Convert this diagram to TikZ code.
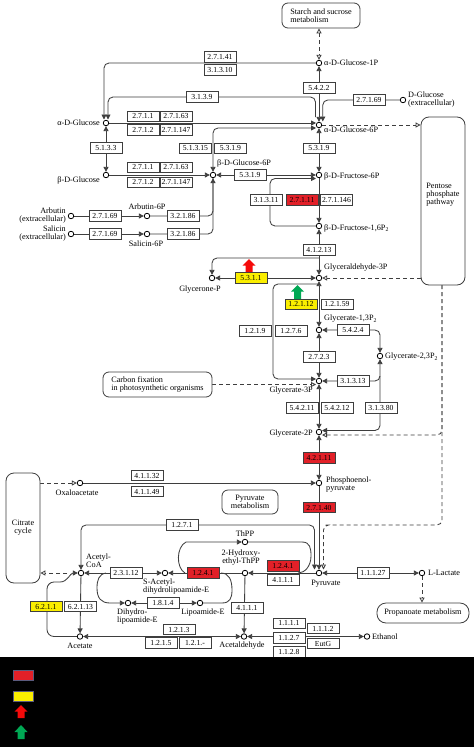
\documentclass[tikz,border=0pt]{standalone}
\usepackage{tikz}
\usepackage{fontspec}
\setmainfont{Liberation Serif}
\usetikzlibrary{arrows.meta,calc}
\pgfdeclarelayer{bgl}
\pgfdeclarelayer{lnl}
\pgfsetlayers{bgl,lnl,main}
\definecolor{kred}{RGB}{226,32,40}
\definecolor{kyel}{RGB}{250,238,0}
\definecolor{kgrn}{RGB}{0,168,84}
\definecolor{karr}{RGB}{245,10,10}
\definecolor{kln}{RGB}{62,62,62}
\definecolor{kbd}{RGB}{90,90,125}
\tikzset{
 enz/.style={draw=kln, fill=white, line width=0.75pt, minimum width=32pt, minimum height=10.5pt, inner sep=0pt, font=\fontsize{7.7}{8}\selectfont},
 enzr/.style={enz, fill=kred},
 enzy/.style={enz, fill=kyel},
 cpd/.style={circle, draw=black, fill=white, line width=0.8pt, minimum size=5.5pt, inner sep=0pt},
 lbl/.style={font=\fontsize{8.2}{8}\selectfont, inner sep=0pt, align=left},
 mapbox/.style={draw=kln, fill=white, rounded corners=6pt, line width=0.8pt, inner sep=0pt, font=\fontsize{8.2}{8}\selectfont, align=center},
 conn/.style={draw=kln, line width=0.85pt},
 arr/.style={conn, -{Triangle[length=5pt,width=5pt]}},
 barr/.style={conn, {Triangle[length=5pt,width=5pt]}-{Triangle[length=5pt,width=5pt]}},
 oarr/.style={conn, dash pattern=on 4pt off 3pt, -{Triangle[open,length=5pt,width=5pt]}},
 boarr/.style={conn, dash pattern=on 4pt off 3pt, {Triangle[open,length=5pt,width=5pt]}-{Triangle[open,length=5pt,width=5pt]}},
 dline/.style={conn, dash pattern=on 4pt off 3pt},
}
\begin{document}
\begin{tikzpicture}[x=1pt,y=-1pt]
\begin{pgfonlayer}{bgl}
\fill[white] (0,0) rectangle (474,747);
\end{pgfonlayer}
\useasboundingbox (0,0) rectangle (474,747);

% ---------- map boxes
\node[mapbox, minimum width=78pt, minimum height=25pt, align=left] (starch) at (321,15.5) {Starch and sucrose\\metabolism};
\node[mapbox, minimum width=44pt, minimum height=168pt, rounded corners=8pt] (pentose) at (443,201) {};
\node[lbl, align=left] (pentlbl) at (443,195) {Pentose\\phosphate\\pathway};
\node[mapbox, minimum width=109pt, minimum height=25pt, align=left] (carbon) at (157.5,384.5) {Carbon fixation\\in photosynthetic organisms};
\node[mapbox, minimum width=34pt, minimum height=110pt, rounded corners=8pt] (citrate) at (23,528) {Citrate\\cycle};
\node[mapbox, minimum width=56pt, minimum height=24pt] (pyrmet) at (250,502) {Pyruvate\\metabolism};
\node[mapbox, minimum width=92pt, minimum height=20pt, rounded corners=9pt] (propan) at (423,613) {Propanoate metabolism};

% ---------- compounds
\node[cpd] (g1p) at (319,63) {};
\node[lbl,anchor=west] (g1pl) at (324,63) {α-D-Glucose-1P};
\node[cpd] (g6p) at (319,125) {};
\node[lbl,anchor=west] (g6pl) at (324,130) {α-D-Glucose-6P};
\node[cpd] (aglc) at (106,123) {};
\node[lbl,anchor=east] (aglcl) at (100,123) {α-D-Glucose};
\node[cpd] (bglc) at (106,175) {};
\node[lbl,anchor=east] (bglcl) at (100,180) {β-D-Glucose};
\node[cpd] (bg6p) at (213,175) {};
\node[lbl,anchor=west] (bg6pl) at (217,163) {β-D-Glucose-6P};
\node[cpd] (dglc) at (403,100) {};
\node[lbl,anchor=west] (dglcl) at (408,100) {D-Glucose\\(extracellular)};
\node[cpd] (arb) at (71,216) {};
\node[lbl,anchor=east,align=right] (arbl) at (66,216) {Arbutin\\(extracellular)};
\node[cpd] (sal) at (71,234) {};
\node[lbl,anchor=east,align=right] (sall) at (66,234) {Salicin\\(extracellular)};
\node[cpd] (arb6p) at (147,216) {};
\node[lbl] (arb6pl) at (147,207) {Arbutin-6P};
\node[cpd] (sal6p) at (147,234) {};
\node[lbl] (sal6pl) at (146,244) {Salicin-6P};
\node[cpd] (bf6p) at (319,175) {};
\node[lbl,anchor=west] (bf6pl) at (324,176) {β-D-Fructose-6P};
\node[cpd] (f16p) at (319,226) {};
\node[lbl,anchor=west] (f16pl) at (324,228) {β-D-Fructose-1,6P\textsubscript{2}};
\node[cpd] (gap) at (319,278) {};
\node[lbl,anchor=west] (gapl) at (324,268) {Glyceraldehyde-3P};
\node[cpd] (dhap) at (212,278) {};
\node[lbl] (dhapl) at (200,290) {Glycerone-P};
\node[cpd] (bpg) at (319,330) {};
\node[lbl,anchor=west] (bpgl) at (324,319) {Glycerate-1,3P\textsubscript{2}};
\node[cpd] (bpg23) at (380,356) {};
\node[lbl,anchor=west] (bpg23l) at (385,357) {Glycerate-2,3P\textsubscript{2}};
\node[cpd] (pg3) at (319,381) {};
\node[lbl,anchor=east] (pg3l) at (313,391) {Glycerate-3P};
\node[cpd] (pg2) at (319,432) {};
\node[lbl,anchor=east] (pg2l) at (313,434) {Glycerate-2P};
\node[cpd] (pep) at (319,483) {};
\node[lbl,anchor=west] (pepl) at (326,485) {Phosphoenol-\\pyruvate};
\node[cpd] (pyr) at (319,573) {};
\node[lbl] (pyrl) at (326,584) {Pyruvate};
\node[cpd] (lac) at (422,573) {};
\node[lbl,anchor=west] (lacl) at (428,573) {L-Lactate};
\node[cpd] (oaa) at (80,483) {};
\node[lbl] (oaal) at (77,493) {Oxaloacetate};
\node[cpd] (acoa) at (81,573) {};
\node[lbl,anchor=west] (acoal) at (86,561) {Acetyl-\\CoA};
\node[cpd] (sacl) at (165,573) {};
\node[lbl,anchor=west] (sacll) at (143,587) {S-Acetyl-\\dihydrolipoamide-E};
\node[cpd] (hethpp) at (245,573) {};
\node[lbl,align=center] (hethppl) at (241,558) {2-Hydroxy-\\ethyl-ThPP};
\node[cpd] (thpp) at (245,542) {};
\node[lbl] (thppl) at (245,534) {ThPP};
\node[cpd] (dhl) at (128,603) {};
\node[lbl,anchor=west] (dhll) at (117,617) {Dihydro-\\lipoamide-E};
\node[cpd] (lip) at (200,603) {};
\node[lbl] (lipl) at (203,613) {Lipoamide-E};
\node[cpd] (acald) at (244,636.5) {};
\node[lbl] (acaldl) at (242,646) {Acetaldehyde};
\node[cpd] (ace) at (80,636.5) {};
\node[lbl] (acel) at (80,646) {Acetate};
\node[cpd] (eth) at (367,636.5) {};
\node[lbl,anchor=west] (ethl) at (372,636.5) {Ethanol};

% ---------- enzymes
\node[enz] (e27141) at (220,57) {2.7.1.41};
\node[enz] (e31310) at (220,70) {3.1.3.10};
\node[enz] (e5422) at (319,88) {5.4.2.2};
\node[enz] (e27169a) at (369,100) {2.7.1.69};
\node[enz] (e3139) at (202,97) {3.1.3.9};
\node[enz] (ea1) at (143,116.5) {2.7.1.1};
\node[enz] (ea2) at (176,116.5) {2.7.1.63};
\node[enz] (ea3) at (143,130) {2.7.1.2};
\node[enz] (ea4) at (176,130) {2.7.1.147};
\node[enz] (e5133) at (106,148) {5.1.3.3};
\node[enz] (e51315) at (195.5,148.5) {5.1.3.15};
\node[enz] (e5319a) at (230.5,148.5) {5.3.1.9};
\node[enz] (e5319b) at (319,148.5) {5.3.1.9};
\node[enz] (e5319c) at (250,175) {5.3.1.9};
\node[enz] (eb1) at (143,167.5) {2.7.1.1};
\node[enz] (eb2) at (176,167.5) {2.7.1.63};
\node[enz] (eb3) at (143,182.5) {2.7.1.2};
\node[enz] (eb4) at (176,182.5) {2.7.1.147};
\node[enz] (earb1) at (105,216) {2.7.1.69};
\node[enz] (earb2) at (183,216) {3.2.1.86};
\node[enz] (esal1) at (105,234) {2.7.1.69};
\node[enz] (esal2) at (183,234) {3.2.1.86};
\node[enz] (e31311) at (266,200) {3.1.3.11};
\node[enzr] (e27111) at (302,200) {2.7.1.11};
\node[enz] (e271146) at (336.5,200) {2.7.1.146};
\node[enz] (e41213) at (319,250) {4.1.2.13};
\node[enzy] (e5311) at (251,278) {5.3.1.1};
\node[enzy] (e12112) at (301,304.5) {1.2.1.12};
\node[enz] (e12159) at (337,304.5) {1.2.1.59};
\node[enz] (e1219) at (255,331) {1.2.1.9};
\node[enz] (e1276) at (291,331) {1.2.7.6};
\node[enz] (e5424) at (353,330) {5.4.2.4};
\node[enz] (e2723) at (319,357) {2.7.2.3};
\node[enz] (e31313) at (353,381) {3.1.3.13};
\node[enz] (e54211) at (302,408) {5.4.2.11};
\node[enz] (e54212) at (337,408) {5.4.2.12};
\node[enz] (e31380) at (381,408) {3.1.3.80};
\node[enzr] (e42111) at (319,458) {4.2.1.11};
\node[enzr] (e27140) at (319,507.5) {2.7.1.40};
\node[enz] (e41132) at (147,475.5) {4.1.1.32};
\node[enz] (e41149) at (147,491.5) {4.1.1.49};
\node[enz] (e1271) at (182,525) {1.2.7.1};
\node[enz] (e23112) at (126,573) {2.3.1.12};
\node[enzr] (e1241a) at (203,573) {1.2.4.1};
\node[enzr] (e1241b) at (283,566) {1.2.4.1};
\node[enz] (e4111a) at (283,580) {4.1.1.1};
\node[enz] (e1814) at (163,603) {1.8.1.4};
\node[enz] (e4111b) at (247,608) {4.1.1.1};
\node[enz] (e11127) at (373,573) {1.1.1.27};
\node[enzy] (e6211) at (46,606.5) {6.2.1.1};
\node[enz] (e62113) at (80.5,606.5) {6.2.1.13};
\node[enz] (e1213) at (179,629.5) {1.2.1.3};
\node[enz] (e1215) at (161,643) {1.2.1.5};
\node[enz] (e121x) at (195,643) {1.2.1.-};
\node[enz] (e1111) at (289,623.5) {1.1.1.1};
\node[enz] (e1127) at (289,638) {1.1.2.7};
\node[enz] (e1128) at (289,652) {1.1.2.8};
\node[enz] (e1112) at (323,628.5) {1.1.1.2};
\node[enz] (eeutg) at (323,643.5) {EutG};

\coordinate (pp) at (442,285);

% ---------- connectors
\begin{pgfonlayer}{lnl}
\draw[boarr] (starch.south -| g1p) -- (g1p);
\draw[arr, rounded corners=5pt] (g1p.west) -| ($(aglc)+(-2,-3.5)$);
\draw[arr, rounded corners=5pt] ($(g6p)+(-3.5,-8)$) |- (202,97) -| ($(aglc)+(2,-3.5)$);
\draw[barr] (g1p) -- (g6p);
\draw[arr, rounded corners=5pt] (dglc.west) -| ($(g6p)+(3.8,-3.5)$);
\draw[arr] (aglc.east) -- ($(g6p)+(-3,-2)$);
\draw[barr, rounded corners=5pt] (bg6p.north) |- ($(g6p)+(-3,3)$);
\draw[barr] (aglc) -- (bglc);
\draw[arr] (bglc) -- (bg6p);
\draw[barr] (bg6p) -- (bf6p);
\draw[barr] (g6p) -- (bf6p);
\draw[arr] (arb) -- (arb6p);
\draw[arr] (sal) -- (sal6p);
\draw[conn, rounded corners=5pt] (arb6p.east) -| (bg6p.south);
\draw[arr, rounded corners=5pt] (sal6p.east) -| (bg6p.south);
\draw[arr, rounded corners=5pt] (f16p.west) -| (270,200) |- ($(bf6p)+(-3,3.5)$);
\draw[arr] (bf6p) -- (f16p);
\draw[barr] (f16p) -- (gap);
\draw[arr, rounded corners=5pt] ($(gap)+(0,-20)$) -| (dhap.north);
\draw[barr] (dhap) -- (gap);
\draw[barr] (gap) -- (bpg);
\draw[arr, rounded corners=5pt] ($(gap)+(0,6)$) -| (273,330) |- ($(pg3)+(-3,-2)$);
\draw[barr] (bpg) -- (pg3);
\draw[barr, rounded corners=5pt] (bpg) -| (bpg23);
\draw[barr, rounded corners=5pt] (bpg23) |- (pg3);
\draw[arr, rounded corners=5pt] ($(bpg23)+(0,20)$) |- ($(pg2)+(3,-1.5)$);
\draw[barr] (pg3) -- (pg2);
\draw[barr] (pg2) -- (pep);
\draw[arr] (pep) -- (pyr);
\draw[arr] (oaa) -- (pep);
\draw[oarr] (citrate.east |- oaa) -- (oaa);
\draw[oarr] ($(acoa)+(-14,0)$) -- (citrate.east |- acoa);
\draw[arr] (ace.west) -- (54,636.5) to[out=180,in=270] (47,629.5) -- (47,589) to[out=90,in=180] (54,582) -- (60,582) to[out=0,in=180] (acoa.west);
\draw[barr, rounded corners=5pt] ($(pyr)+(-4.5,-3.5)$) |- (182,525) -| (acoa.north);
\draw[barr] (acoa) -- (sacl);
\draw[arr] (hethpp) -- (sacl);
\draw[arr] (pyr) -- (hethpp);
\draw[arr] (185,573) .. controls (176,568) and (176,547) .. (186,542) -- (thpp.west);
\draw[conn] (thpp.east) -- (302,542) .. controls (310,542) and (311,548) .. (311,556) .. controls (311,566) and (305,573) .. (298,573);
\draw[conn] (lip.east) -- (222,603) .. controls (230,603) and (232,598) .. (232,590) .. controls (232,580) and (229,573) .. (221,573);
\draw[arr] (106,573) .. controls (99,574) and (97,580) .. (97,588) .. controls (97,598) and (101,603) .. (110,603) -- (dhl.west);
\draw[barr] (dhl) -- (lip);
\draw[arr] (hethpp) -- (acald);
\draw[arr] (acoa) -- (ace);
\draw[barr] (acald) -- (ace);
\draw[barr] (acald) -- (eth);
\draw[barr] (pyr) -- (lac);
\draw[oarr] (lac) -- (propan.north -| lac);
\draw[oarr] (g6p) -- (pentose.west |- g6p);
\draw[oarr] (pentose.west |- gap) -- (gap);
\draw[oarr, rounded corners=5pt] (pp) |- ($(pg2)+(3,3)$);
\draw[oarr, rounded corners=5pt] (pp) |- (330,525) -| ($(pyr)+(4.5,-3.5)$);
\draw[oarr] (carbon.east) -- ($(pg3)+(-3,3.5)$);
\end{pgfonlayer}

% ---------- block arrows
\fill[karr] (245.5,272) -- (245.5,265.5) -- (242.5,265.5) -- (249,259) -- (255.5,265.5) -- (252.5,265.5) -- (252.5,272) -- cycle;
\fill[kgrn] (294,299) -- (294,291.5) -- (291,291.5) -- (297.5,285) -- (304,291.5) -- (301,291.5) -- (301,299) -- cycle;

% ---------- legend band
\fill[black] (0,657) rectangle (474,747);
\draw[kbd, line width=0.8pt, fill=kred] (13,670) rectangle (33,680);
\draw[kbd, line width=0.8pt, fill=kyel] (13,691) rectangle (33,701);
\fill[karr] (17.5,718) -- (17.5,711.5) -- (14.5,711.5) -- (21,705) -- (27.5,711.5) -- (24.5,711.5) -- (24.5,718) -- cycle;
\fill[kgrn] (17.5,739) -- (17.5,732) -- (14.5,732) -- (21,725) -- (27.5,732) -- (24.5,732) -- (24.5,739) -- cycle;
\end{tikzpicture}
\end{document}
